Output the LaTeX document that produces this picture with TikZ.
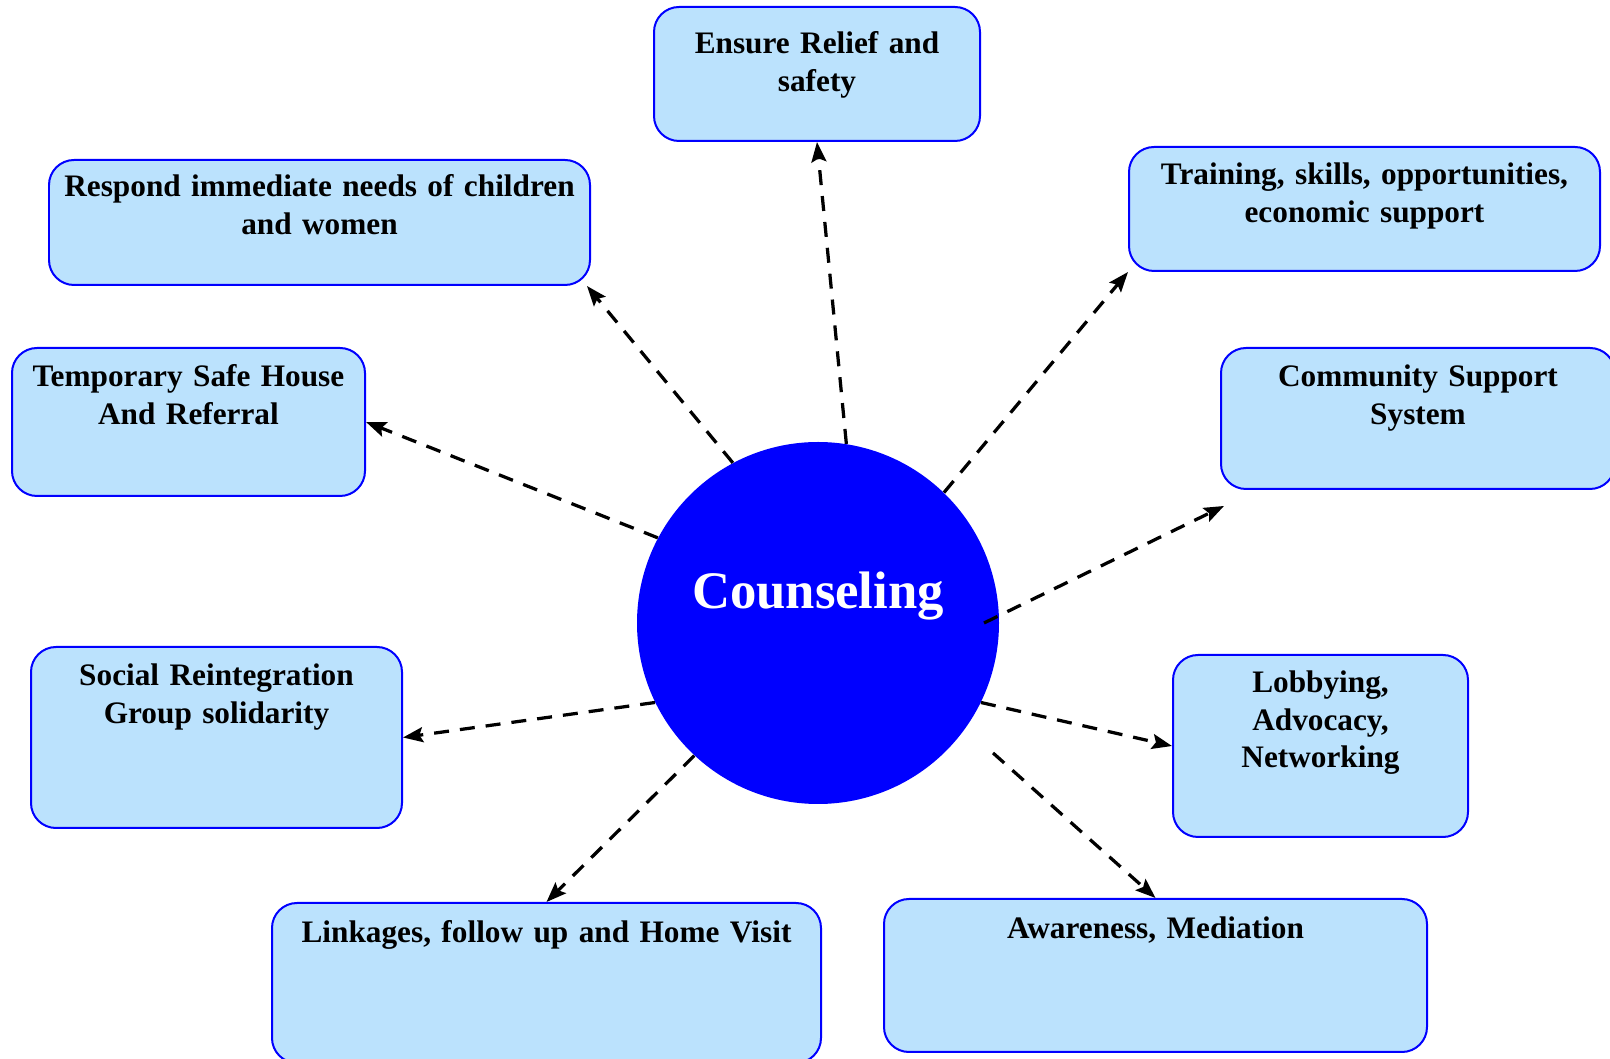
\documentclass[tikz,border=0pt]{standalone}
\usepackage{fontspec}
\setmainfont{Liberation Serif}
\usepackage{tikz}
\usetikzlibrary{arrows.meta, positioning, calc}
\definecolor{cnsBlue}{RGB}{0,0,255}
\definecolor{cnsFill}{RGB}{187,226,253}

\begin{document}
\begin{tikzpicture}[
    goal/.style={rectangle, draw=cnsBlue, fill=cnsFill, line width=0.04cm,
        rounded corners=0.5cm, inner xsep=0pt, inner ysep=0pt, align=center,
        text height=0.78cm,
        font=\fontsize{17.8}{21.3}\selectfont\bfseries},
    hub/.style={circle, fill=cnsBlue, minimum size=7.24cm, inner sep=0pt,
        text=white, text height=0.7cm, text depth=1.28cm,
        font=\fontsize{30}{36}\selectfont\bfseries},
    arr/.style={-{Stealth[length=0.4cm, width=0.3cm, inset=0.07cm]},
        dash pattern=on 0.3cm off 0.22cm, line width=0.065cm}
]
\useasboundingbox (0,0) rectangle (32.2,21.18);

% centre
\node[hub] (counsel) at (16.36,8.72) {Counseling};

% surrounding services
\node[goal, text width=6.52cm, text height=0.94cm, text depth=1.74cm]
    (ensure) at (16.34,19.70) {Ensure Relief and\\safety};
\node[goal, text width=10.82cm, text height=0.74cm, text depth=1.76cm]
    (respond) at (6.39,16.73) {Respond immediate needs of children\\and women};
\node[goal, text width=9.42cm, text height=0.76cm, text depth=1.72cm]
    (training) at (27.29,17.0) {Training, skills, opportunities,\\economic support};
\node[goal, text width=7.06cm, text depth=2.18cm]
    (temporary) at (3.77,12.74) {Temporary Safe House\\And Referral};
\node[goal, text width=7.88cm, text depth=2.04cm]
    (community) at (28.36,12.81) {Community Support\\System};
\node[goal, text width=7.42cm, text depth=2.84cm]
    (social) at (4.33,6.43) {Social Reintegration\\Group solidarity};
\node[goal, text width=5.9cm, text height=0.76cm, text depth=2.88cm]
    (lobbying) at (26.41,6.26) {Lobbying,\\Advocacy,\\Networking};
\node[goal, text width=10.98cm, text height=0.8cm, text depth=2.4cm]
    (linkages) at (10.93,1.52) {Linkages, follow up and Home Visit};
\node[goal, text width=10.86cm, text height=0.8cm, text depth=2.26cm]
    (awareness) at (23.11,1.67) {Awareness, Mediation};

% dashed links
\draw[arr] (counsel.81) -- (ensure.south);
\draw[arr] (counsel.118) -- ($(respond.south east)+(-0.08,0)$);
\draw[arr] (counsel.46) -- (training.south west);
\draw[arr] (counsel.152) -- (temporary.east);
\draw[arr] ($(counsel.center)+(0:3.32)$) -- ($(community.south west)+(0.08,-0.32)$);
\draw[arr] (counsel.206) -- (social.east);
\draw[arr] (counsel.334) -- (lobbying.west);
\draw[arr] (counsel.227) -- (linkages.north);
\draw[arr] ($(counsel.center)+(-36.6:4.36)$) -- (awareness.north);
\end{tikzpicture}
\end{document}
